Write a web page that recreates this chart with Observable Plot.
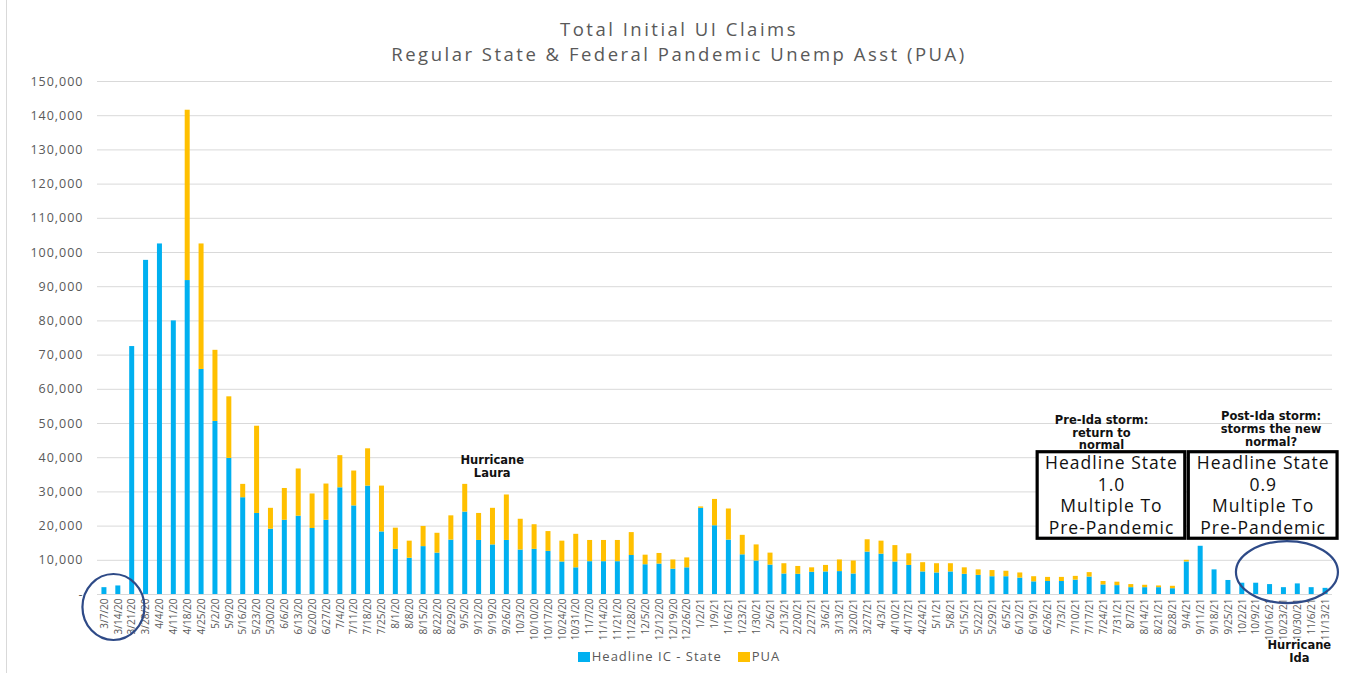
<!DOCTYPE html>
<html>
<head>
<meta charset="utf-8">
<script src="https://cdn.jsdelivr.net/npm/d3@7"></script>
<script src="https://cdn.jsdelivr.net/npm/@observablehq/plot@0.6"></script>
<style>
  body { margin: 0; background: #fff; font-family: "Open Sans", sans-serif; }
  #wrap { position: relative; width: 1345px; height: 673px; overflow: hidden; background: #fff; }
  #edge { position: absolute; left: 6px; top: 0; width: 1px; height: 673px; background: #d9d9d9; }
  .tl { position: absolute; left: 0; width: 1358px; text-align: center; color: #595959;
        font-size: 18.5px; line-height: 25px; letter-spacing: 2.5px; white-space: nowrap; }
  #legend { position: absolute; top: 647px; left: 0; width: 1358px; text-align: center; color: #595959;
            font-size: 13px; letter-spacing: 1px; }
  #legend span.item { display: inline-block; margin: 0 8px; }
  #legend i { display: inline-block; width: 12px; height: 10px; vertical-align: -1px; margin-right: 2px; }
  #chart { position: absolute; left: 0; top: 0; }
</style>
</head>
<body>
<div id="wrap">
  <div id="edge"></div>
  <div id="chart"></div>
  <div id="title"></div>
  <div id="legend"></div>
</div>
<script>
// ---- data ----
const titleLines = ["Total Initial UI Claims", "Regular State & Federal Pandemic Unemp Asst (PUA)"];

const weeks = [
  "3/7/20","3/14/20","3/21/20","3/28/20","4/4/20","4/11/20","4/18/20","4/25/20","5/2/20","5/9/20",
  "5/16/20","5/23/20","5/30/20","6/6/20","6/13/20","6/20/20","6/27/20","7/4/20","7/11/20","7/18/20",
  "7/25/20","8/1/20","8/8/20","8/15/20","8/22/20","8/29/20","9/5/20","9/12/20","9/19/20","9/26/20",
  "10/3/20","10/10/20","10/17/20","10/24/20","10/31/20","11/7/20","11/14/20","11/21/20","11/28/20","12/5/20",
  "12/12/20","12/19/20","12/26/20",
  "1/2/21","1/9/21","1/16/21","1/23/21","1/30/21","2/6/21","2/13/21","2/20/21","2/27/21","3/6/21",
  "3/13/21","3/20/21","3/27/21","4/3/21","4/10/21","4/17/21","4/24/21","5/1/21","5/8/21","5/15/21",
  "5/22/21","5/29/21","6/5/21","6/12/21","6/19/21","6/26/21","7/3/21","7/10/21","7/17/21","7/24/21",
  "7/31/21","8/7/21","8/14/21","8/21/21","8/28/21","9/4/21","9/11/21","9/18/21","9/25/21","10/2/21",
  "10/9/21","10/16/21","10/23/21","10/30/21","11/6/21","11/13/21"
];

const stateClaims = [
  2000, 2500, 72500, 97700, 102500, 80000, 91800, 65800, 50600, 39800,
  28300, 23700, 19100, 21700, 22900, 19300, 21700, 31200, 25900, 31700,
  18300, 13200, 10600, 14000, 12100, 15900, 24100, 15800, 14500, 15800,
  13000, 13200, 12600, 9500, 7800, 9600, 9600, 9600, 11400, 8700,
  8900, 7400, 7800,
  25200, 20100, 15900, 11600, 9800, 8600, 6000, 5900, 6500, 6600,
  6700, 6000, 12400, 11800, 9500, 8500, 6600, 6300, 6600, 5900,
  5600, 5200, 5200, 4800, 3700, 3800, 3800, 4200, 5100, 2800,
  2600, 2000, 2000, 2000, 1700, 9500, 14100, 7200, 4100, 3300,
  3300, 2900, 2000, 3100, 2000, 1800
];

const puaClaims = [
  0, 0, 0, 0, 0, 0, 49800, 36700, 20800, 18000,
  3900, 25500, 6100, 9300, 13800, 10100, 10600, 9400, 10200, 10900,
  13400, 6200, 5000, 5900, 5800, 7100, 8100, 7900, 10700, 13300,
  9000, 7200, 5800, 6100, 9800, 6200, 6200, 6200, 6700, 2800,
  3100, 2700, 2900,
  400, 7700, 9100, 5700, 4700, 3500, 3000, 2300, 1300, 1900,
  3400, 3800, 3600, 3800, 4800, 3400, 2700, 2700, 2400, 1900,
  1600, 1800, 1600, 1500, 1500, 1200, 1200, 1100, 1300, 1000,
  1000, 900, 700, 500, 700, 500, 0, 0, 0, 0,
  0, 0, 0, 0, 0, 0
];

const seriesNames = ["Headline IC - State", "PUA"];
const seriesColors = ["#00B0F0", "#FFC000"];
const yTicks = [0, 10000, 20000, 30000, 40000, 50000, 60000, 70000, 80000, 90000, 100000, 110000, 120000, 130000, 140000, 150000];

const notes = [
  {week: "9/5/20", y: 37400, text: "Hurricane\nLaura", dx: 27},
  {week: "7/24/21", y: 47300, text: "Pre-Ida storm:\nreturn to\nnormal", dx: -2},
  {week: "10/16/21", y: 48400, text: "Post-Ida storm:\nstorms the new\nnormal?", dx: 1}
];
const boxes = [
  {from: 67, to: 78, text: ["Headline State", "1.0", "Multiple To", "Pre-Pandemic"]},
  {from: 78, to: 88, text: ["Headline State", "0.9", "Multiple To", "Pre-Pandemic"]}
];

// ---- build ----
const rows = weeks.flatMap((w, i) => [
  {week: w, series: seriesNames[0], value: stateClaims[i]},
  {week: w, series: seriesNames[1], value: puaClaims[i]}
]);

const chart = Plot.plot({
  width: 1345,
  height: 673,
  marginLeft: 97,
  marginRight: 13,
  marginTop: 81,
  marginBottom: 79,
  style: {fontFamily: "'Open Sans', sans-serif", color: "#595959", background: "transparent"},
  x: {domain: weeks, paddingInner: 0.64, paddingOuter: 0.32, label: null},
  y: {domain: [0, 150000], label: null},
  color: {domain: seriesNames, range: seriesColors},
  marks: [
    Plot.ruleY(yTicks, {stroke: "#d9d9d9", strokeWidth: 1}),
    Plot.barY(rows, {x: "week", y: "value", fill: "series", order: seriesNames}),
    Plot.axisY(yTicks, {tickSize: 0, tickPadding: 14, fontSize: 12.5, label: null,
      tickFormat: d => d === 0 ? "-" : d3.format(",")(d)}),
    Plot.axisX({tickSize: 0, tickPadding: 4, tickRotate: -90, fontSize: 10, label: null}),
    Plot.text(notes, {x: "week", y: "y", text: "text", fontSize: 11.5, fontWeight: "bold",
      fill: "#111", lineHeight: 1.1, fontFamily: "'DejaVu Sans', sans-serif"})
  ]
});
document.getElementById("chart").appendChild(chart);

const svg = d3.select(chart);
// shift note texts horizontally
svg.selectAll('g[aria-label="text"] text').each(function(d, i) {
  const n = notes[i];
  if (n) {
    const t = d3.select(this).attr("transform") || "";
    d3.select(this).attr("transform", t + ` translate(${n.dx},0)`);
  }
});
svg.selectAll('g[aria-label="y-axis tick label"] text').attr("letter-spacing", "1px");

const xs = chart.scale("x"), ys = chart.scale("y");
const cx = w => xs.apply(w) + xs.bandwidth / 2;

// boxes
const boxG = svg.append("g");
boxes.forEach((b, k) => {
  const x1 = k === 0 ? cx(weeks[b.from]) + 3.5 : cx(weeks[b.from]) + 2;
  const x2 = k === 0 ? cx(weeks[b.to]) - 1.5 : cx(weeks[b.to]) + 12;
  const y1 = ys.apply(41600), y2 = ys.apply(16300);
  boxG.append("rect").attr("x", x1).attr("y", y1).attr("width", x2 - x1).attr("height", y2 - y1)
    .attr("fill", "#fff").attr("stroke", "#000").attr("stroke-width", 3.2);
  b.text.forEach((t, j) => {
    boxG.append("text").attr("x", (x1 + x2) / 2 + 0.5).attr("y", y1 + 11 + j * 21.7)
      .attr("text-anchor", "middle").attr("dy", "0.35em")
      .attr("font-family", "'Open Sans', sans-serif").attr("font-size", 17.5)
      .attr("letter-spacing", "1px").attr("fill", "#111").text(t);
  });
});

// circles
const circG = svg.append("g").attr("fill", "none").attr("stroke", "#2E4A87").attr("stroke-width", 2.2);
circG.append("ellipse").attr("cx", cx(weeks[0]) + 9.5).attr("cy", ys.apply(0) + 13).attr("rx", 31).attr("ry", 33);
circG.append("ellipse").attr("cx", cx(weeks[85]) + 3.5).attr("cy", ys.apply(6400)).attr("rx", 51).attr("ry", 31);

// Hurricane Ida label
const idaX = cx(weeks[86]) + 2;
const ida = svg.append("text").attr("x", idaX).attr("y", ys.apply(0) + 55)
  .attr("text-anchor", "middle").attr("font-family", "'DejaVu Sans', sans-serif")
  .attr("font-size", 11.5).attr("font-weight", "bold").attr("fill", "#111");
ida.append("tspan").attr("x", idaX).attr("dy", 0).text("Hurricane");
ida.append("tspan").attr("x", idaX).attr("dy", 13).text("Ida");

// title
const title = document.getElementById("title");
titleLines.forEach((l, i) => {
  const d = document.createElement("div");
  d.className = "tl";
  d.style.top = (16 + i * 25) + "px";
  d.textContent = l;
  title.appendChild(d);
});

// legend
const legend = document.getElementById("legend");
seriesNames.forEach((s, i) => {
  const sp = document.createElement("span"); sp.className = "item";
  const sw = document.createElement("i"); sw.style.background = seriesColors[i];
  sp.appendChild(sw); sp.appendChild(document.createTextNode(s));
  legend.appendChild(sp);
});
</script>
</body>
</html>
